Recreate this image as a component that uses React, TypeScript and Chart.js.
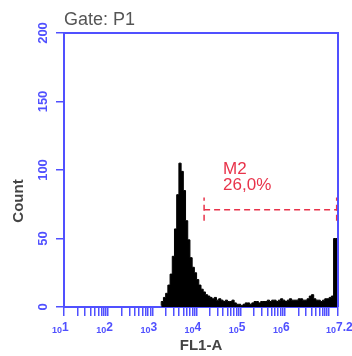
import React, { useEffect, useRef } from "react";
import { Chart, registerables } from "chart.js";

Chart.register(...registerables);

// Histogram bins (log10 of FL1-A, left edge of each bin) and counts
const binStarts = [
  3.2, 3.25, 3.3, 3.35, 3.4, 3.45, 3.5, 3.55, 3.6, 3.65, 3.7, 3.75, 3.8, 3.85, 3.9, 3.95,
  4.0, 4.05, 4.1, 4.15, 4.2, 4.25, 4.3, 4.35, 4.4, 4.45, 4.5, 4.55, 4.6, 4.65, 4.7, 4.75,
  4.8, 4.85, 4.9, 4.95, 5.0, 5.05, 5.1, 5.15, 5.2, 5.25, 5.3, 5.35, 5.4, 5.45, 5.5, 5.55,
  5.6, 5.65, 5.7, 5.75, 5.8, 5.85, 5.9, 5.95, 6.0, 6.05, 6.1, 6.15, 6.2, 6.25, 6.3, 6.35,
  6.4, 6.45, 6.5, 6.55, 6.6, 6.65, 6.7, 6.75, 6.8, 6.85, 6.9, 6.95, 7.0, 7.05, 7.1, 7.15, 7.2,
];
const counts = [
  1, 4, 7, 10, 16, 24, 37, 57, 82, 105, 99, 85, 63, 49, 36, 29,
  25, 20, 16, 13, 11, 9, 8, 7, 6, 7, 5, 6, 5, 4, 5, 4,
  4, 5, 3, 2, 2, 1, 2, 3, 3, 2, 3, 4, 4, 3, 4, 4,
  4, 5, 4, 5, 5, 4, 5, 6, 5, 4, 5, 6, 5, 5, 5, 6,
  6, 5, 5, 6, 8, 9, 6, 5, 5, 4, 5, 6, 6, 7, 8, 50, 50,
];

// Axis definitions
const xMin = 1;
const xMax = 7.2;
const xMajorTicks = [1, 2, 3, 4, 5, 6, 7, 7.2];
const xLabelValues = [1, 2, 3, 4, 5, 6, 7.2];
const xLabelExponents = ["1", "2", "3", "4", "5", "6", "7.2"];
const minorMultipliers = [2, 3, 4, 5, 6, 7, 8, 9];
const yMin = 0;
const yMax = 200;
const yStep = 50;

// Marker M2
const markerLabel = "M2";
const markerPercent = "26,0%";
const markerStart = 4.17;
const markerEnd = 7.17;
const markerLevel = 71;
const markerEndLow = 63;
const markerEndHigh = 80;

const titleText = "Gate: P1";
const xTitle = "FL1-A";
const yTitle = "Count";

const BLUE = "#5050ff";
const RED = "#e8334a";

export default function App() {
  const ref = useRef<HTMLCanvasElement | null>(null);

  useEffect(() => {
    if (!ref.current) return;
    const histPoints = binStarts.map((x, i) => ({ x, y: counts[i] }));

    const xTicks: number[] = [];
    xMajorTicks.forEach((d) => {
      xTicks.push(d);
      if (Number.isInteger(d)) {
        for (const m of minorMultipliers) {
          const v = d + Math.log10(m);
          if (v < xMax) xTicks.push(v);
        }
      }
    });

    const overlay = {
      id: "overlay",
      afterDraw(chart: any) {
        const ctx = chart.ctx;
        const a = chart.chartArea;
        const xs = chart.scales.x;
        const ys = chart.scales.y;
        ctx.save();
        // frame top/right
        ctx.strokeStyle = BLUE;
        ctx.lineWidth = 2;
        ctx.beginPath();
        ctx.moveTo(a.left, a.top);
        ctx.lineTo(a.right, a.top);
        ctx.lineTo(a.right, a.bottom);
        ctx.stroke();
        // x labels 10^n
        ctx.fillStyle = BLUE;
        ctx.textBaseline = "alphabetic";
        xLabelValues.forEach((v, i) => {
          const px = xs.getPixelForValue(v);
          ctx.font = "bold 9px Arial, 'Liberation Sans', sans-serif";
          ctx.textAlign = "right";
          ctx.fillText("10", px - 2, 333);
          ctx.font = "bold 12px Arial, 'Liberation Sans', sans-serif";
          ctx.textAlign = "left";
          ctx.fillText(xLabelExponents[i], px - 2, 331);
        });
        // title
        ctx.fillStyle = "#555555";
        ctx.font = "18px Arial, 'Liberation Sans', sans-serif";
        ctx.textAlign = "left";
        ctx.fillText(titleText, a.left, 25);
        // x title
        ctx.fillStyle = "#444444";
        ctx.font = "bold 15px Arial, 'Liberation Sans', sans-serif";
        ctx.textAlign = "center";
        ctx.fillText(xTitle, (a.left + a.right) / 2, 350);
        // y title
        ctx.save();
        ctx.translate(23, (a.top + a.bottom) / 2 + 31);
        ctx.rotate(-Math.PI / 2);
        ctx.textAlign = "center";
        ctx.fillText(yTitle, 0, 0);
        ctx.restore();
        // marker text
        const mx = xs.getPixelForValue(markerStart) + 19;
        const my = ys.getPixelForValue(markerLevel);
        ctx.fillStyle = RED;
        ctx.font = "17px Arial, 'Liberation Sans', sans-serif";
        ctx.textAlign = "left";
        ctx.fillText(markerLabel, mx, my - 36);
        ctx.fillText(markerPercent, mx, my - 20);
        ctx.restore();
      },
    };

    const dashed = {
      borderColor: RED,
      borderWidth: 1.5,
      borderDash: [6, 4],
      pointRadius: 0,
      fill: false,
    };

    const chart = new Chart(ref.current, {
      type: "line",
      data: {
        datasets: [
          {
            data: histPoints,
            stepped: "after",
            borderColor: "#000000",
            backgroundColor: "#000000",
            borderWidth: 1,
            pointRadius: 0,
            fill: "origin",
          },
          { ...dashed, data: [{ x: markerStart, y: markerLevel }, { x: markerEnd, y: markerLevel }] },
          { ...dashed, data: [{ x: markerStart, y: markerEndLow }, { x: markerStart, y: markerEndHigh }] },
          { ...dashed, data: [{ x: markerEnd, y: markerEndLow }, { x: markerEnd, y: markerEndHigh }] },
        ] as any,
      },
      options: {
        animation: false,
        responsive: false,
        maintainAspectRatio: false,
        layout: { padding: { top: 33, right: 14, left: 0, bottom: 0 } },
        plugins: { legend: { display: false }, tooltip: { enabled: false }, title: { display: false } },
        scales: {
          x: {
            type: "linear",
            min: xMin,
            max: xMax,
            afterBuildTicks: (s: any) => {
              s.ticks = xTicks.map((v) => ({ value: v }));
            },
            afterFit: (s: any) => {
              s.height = 49;
            },
            ticks: { display: false },
            grid: { drawOnChartArea: false, color: BLUE, tickLength: 9, lineWidth: 1.5 },
            border: { color: BLUE, width: 2 },
          },
          y: {
            type: "linear",
            min: yMin,
            max: yMax,
            afterFit: (s: any) => {
              s.width = 64;
            },
            ticks: {
              stepSize: yStep,
              color: BLUE,
              font: { family: "Arial, 'Liberation Sans', sans-serif", size: 13, weight: "bold" },
              minRotation: 90,
              maxRotation: 90,
              crossAlign: "center",
              padding: 2,
            },
            grid: { drawOnChartArea: false, color: BLUE, tickLength: 8, lineWidth: 1.5 },
            border: { color: BLUE, width: 2 },
          },
        },
      } as any,
      plugins: [overlay],
    });
    return () => chart.destroy();
  }, []);

  return (
    <div style={{ position: "fixed", left: 0, top: 0, width: 352, height: 356, background: "#fff" }}>
      <canvas ref={ref} width={352} height={356} style={{ width: 352, height: 356, display: "block" }} />
    </div>
  );
}
